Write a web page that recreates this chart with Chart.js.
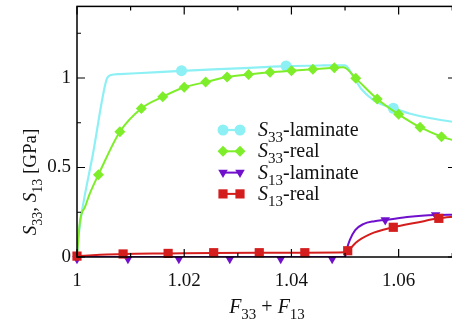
<!DOCTYPE html>
<html>
<head>
<meta charset="utf-8">
<script src="https://cdn.jsdelivr.net/npm/chart.js@4/dist/chart.umd.min.js"></script>
<style>
  html, body { margin: 0; padding: 0; background: #fff; overflow: hidden; }
  #wrap { width: 456px; height: 323px; position: relative; }
</style>
</head>
<body>
<div id="wrap"><canvas id="graph"></canvas></div>
<script>
// stress vs stretch, [x, y] pairs
const s33LamLine = [[1.0, 0], [1.0003, 0.12], [1.0009, 0.25], [1.003, 0.58], [1.0055, 0.99], [1.0062, 1.015],
  [1.008, 1.022], [1.012, 1.028], [1.0195, 1.04], [1.03, 1.054], [1.039, 1.066], [1.046, 1.07], [1.05, 1.071],
  [1.0515, 1.01], [1.053, 0.94], [1.0553, 0.877], [1.057, 0.85], [1.059, 0.831], [1.062, 0.802], [1.066, 0.775], [1.0707, 0.753]];
const s33LamPts = [[1.0195, 1.041], [1.039, 1.067], [1.059, 0.831]];

const s33RealLine = [[1.0, 0], [1.0003, 0.12], [1.0006, 0.21], [1.0015, 0.28], [1.0024, 0.355], [1.004, 0.46],
  [1.008, 0.70], [1.012, 0.83], [1.016, 0.895], [1.02, 0.948], [1.024, 0.977], [1.028, 1.005], [1.032, 1.02],
  [1.036, 1.032], [1.04, 1.041], [1.044, 1.049], [1.048, 1.057], [1.0497, 1.06], [1.052, 0.998], [1.056, 0.883],
  [1.06, 0.797], [1.064, 0.725], [1.068, 0.672], [1.0707, 0.648]];
const s33RealPts = [[1.004, 0.46], [1.008, 0.70], [1.012, 0.83], [1.016, 0.895], [1.02, 0.948], [1.024, 0.977],
  [1.028, 1.005], [1.032, 1.02], [1.036, 1.032], [1.04, 1.041], [1.044, 1.049], [1.048, 1.057], [1.052, 0.998],
  [1.056, 0.883], [1.06, 0.797], [1.064, 0.725], [1.068, 0.672]];

const s13LamLine = [[1.0, 0], [1.05, 0], [1.0503, 0.04], [1.0509, 0.095], [1.0519, 0.15], [1.0534, 0.184],
  [1.0555, 0.2], [1.0575, 0.207], [1.0621, 0.225], [1.0669, 0.234], [1.0707, 0.236]];
const s13LamPts = [[1.0, -0.01], [1.0095, -0.01], [1.019, -0.01], [1.0285, -0.01], [1.038, -0.01], [1.0476, -0.01],
  [1.0575, 0.207], [1.0669, 0.235]];

const s13RealLine = [[1.0, 0.005], [1.0043, 0.012], [1.0086, 0.017], [1.017, 0.02], [1.0255, 0.023], [1.034, 0.024],
  [1.0425, 0.024], [1.0502, 0.026], [1.0508, 0.04], [1.052, 0.08], [1.0547, 0.128], [1.059, 0.166], [1.0635, 0.193],
  [1.0675, 0.216], [1.0707, 0.226]];
const s13RealPts = [[1.0, 0.005], [1.0086, 0.017], [1.017, 0.02], [1.0255, 0.024], [1.034, 0.024], [1.0425, 0.024],
  [1.0505, 0.035], [1.059, 0.166], [1.0675, 0.216]];

const xTicks = [1, 1.02, 1.04, 1.06];
const xMinor = [1.01, 1.03, 1.05, 1.07];
const yTicks = [0, 0.5, 1];
const yMinor = [0.25, 0.75, 1.25];

const serif = '"Liberation Serif", "DejaVu Serif", serif';
const pts = arr => arr.map(p => ({ x: p[0], y: p[1] }));

const series = [
  { name: [['S', 'it'], ['33', 'sub'], ['-laminate', '']], line: s33LamLine, marks: s33LamPts, color: '#8cf0f4', style: 'circle', r: 5.5, rot: 0, lw: 2.2 },
  { name: [['S', 'it'], ['33', 'sub'], ['-real', '']], line: s33RealLine, marks: s33RealPts, color: '#7eee2a', style: 'rectRot', r: 5.5, rot: 0, lw: 2 },
  { name: [['S', 'it'], ['13', 'sub'], ['-laminate', '']], line: s13LamLine, marks: s13LamPts, color: '#7010cc', style: 'triangle', r: 5.5, rot: 180, lw: 2 },
  { name: [['S', 'it'], ['13', 'sub'], ['-real', '']], line: s13RealLine, marks: s13RealPts, color: '#d41e1e', style: 'rect', r: 6.5, rot: 0, lw: 2 }
];

// later series sit on top, like gnuplot draws them
const datasets = [];
series.forEach((s, i) => {
  const base = (series.length - i) * 2;
  datasets.push({
    data: pts(s.line), borderColor: s.color, borderWidth: s.lw, pointRadius: 0,
    cubicInterpolationMode: 'monotone', order: base
  });
  datasets.push({
    data: pts(s.marks), showLine: false, pointStyle: s.style, pointRadius: s.r, pointRotation: s.rot,
    pointBackgroundColor: s.color, pointBorderWidth: 0, clip: false, order: base - 1
  });
});

function fontFor(kind, size) {
  if (kind === 'sub') return Math.round(size * 0.74) + 'px ' + serif;
  if (kind === 'it') return 'italic ' + size + 'px ' + serif;
  return size + 'px ' + serif;
}

// draws text with italic letters and subscripts, returns width
function richText(ctx, parts, size, x, y, align) {
  let w = 0;
  parts.forEach(p => { ctx.font = fontFor(p[1], size); w += ctx.measureText(p[0]).width; });
  let cx = align === 'center' ? x - w / 2 : x;
  ctx.textAlign = 'left';
  ctx.textBaseline = 'alphabetic';
  parts.forEach(p => {
    ctx.font = fontFor(p[1], size);
    ctx.fillText(p[0], cx, p[1] === 'sub' ? y + size * 0.3 : y);
    cx += ctx.measureText(p[0]).width;
  });
  return w;
}

// no extra room for edge labels, the frame is fixed
function noPad(sc) {
  sc.paddingLeft = 0; sc.paddingRight = 0; sc.paddingTop = 0; sc.paddingBottom = 0;
}

const decor = {
  id: 'decor',
  afterDatasetsDraw(chart) {
    const { ctx, chartArea: a, scales: { x, y } } = chart;
    ctx.save();
    ctx.strokeStyle = '#000';
    ctx.lineWidth = 1.5;
    ctx.strokeRect(a.left, a.top, a.right - a.left, a.bottom - a.top);
    ctx.lineWidth = 1.2;
    ctx.beginPath();
    const tickX = (vals, len) => vals.forEach(v => {
      const px = x.getPixelForValue(v);
      ctx.moveTo(px, a.bottom); ctx.lineTo(px, a.bottom - len);
      ctx.moveTo(px, a.top); ctx.lineTo(px, a.top + len);
    });
    const tickY = (vals, len) => vals.forEach(v => {
      const py = y.getPixelForValue(v);
      ctx.moveTo(a.left, py); ctx.lineTo(a.left + len, py);
      ctx.moveTo(a.right, py); ctx.lineTo(a.right - len, py);
    });
    tickX(xTicks, 8); tickX(xMinor, 4);
    tickY(yTicks, 8); tickY(yMinor, 4);
    ctx.stroke();

    // legend
    series.forEach((s, i) => {
      const ry = 130 + i * 21.3;
      ctx.strokeStyle = s.color;
      ctx.lineWidth = s.lw;
      ctx.beginPath();
      ctx.moveTo(223, ry); ctx.lineTo(240, ry);
      ctx.stroke();
      ctx.fillStyle = s.color;
      [223, 240].forEach(mx => Chart.helpers.drawPoint(ctx,
        { pointStyle: s.style, radius: s.r, rotation: s.rot, borderWidth: 0 }, mx, ry));
      ctx.fillStyle = '#111';
      richText(ctx, s.name, 20, 258, ry + 6, 'left');
    });

    // axis titles
    richText(ctx, [['F', 'it'], ['33', 'sub'], [' + ', ''], ['F', 'it'], ['13', 'sub']], 20, 267, 313, 'center');
    ctx.translate(36, 182);
    ctx.rotate(-Math.PI / 2);
    richText(ctx, [['S', 'it'], ['33', 'sub'], [', ', ''], ['S', 'it'], ['13', 'sub'], [' [GPa]', '']], 19, 0, 0, 'center');
    ctx.restore();
  }
};

new Chart(document.getElementById('graph'), {
  type: 'line',
  data: { datasets },
  options: {
    responsive: true,
    maintainAspectRatio: false,
    animation: false,
    layout: { autoPadding: false, padding: { top: 6.4, right: 0, left: 0, bottom: 0 } },
    plugins: { legend: { display: false }, tooltip: { enabled: false } },
    scales: {
      x: {
        type: 'linear', min: 1, max: 1.0707,
        grid: { display: false, drawTicks: false }, border: { display: false },
        afterBuildTicks: sc => { sc.ticks = xTicks.map(v => ({ value: v })); },
        afterFit: sc => { sc.height = 66; noPad(sc); },
        ticks: { padding: 13, color: '#111', maxRotation: 0, font: { family: serif, size: 19 },
          callback: v => String(+v.toFixed(2)) }
      },
      y: {
        min: 0, max: 1.4,
        grid: { display: false, drawTicks: false }, border: { display: false },
        afterBuildTicks: sc => { sc.ticks = yTicks.map(v => ({ value: v })); },
        afterFit: sc => { sc.width = 77; noPad(sc); },
        ticks: { padding: 6, color: '#111', font: { family: serif, size: 19 },
          callback: v => String(+v.toFixed(2)) }
      }
    }
  },
  plugins: [decor]
});
</script>
</body>
</html>
